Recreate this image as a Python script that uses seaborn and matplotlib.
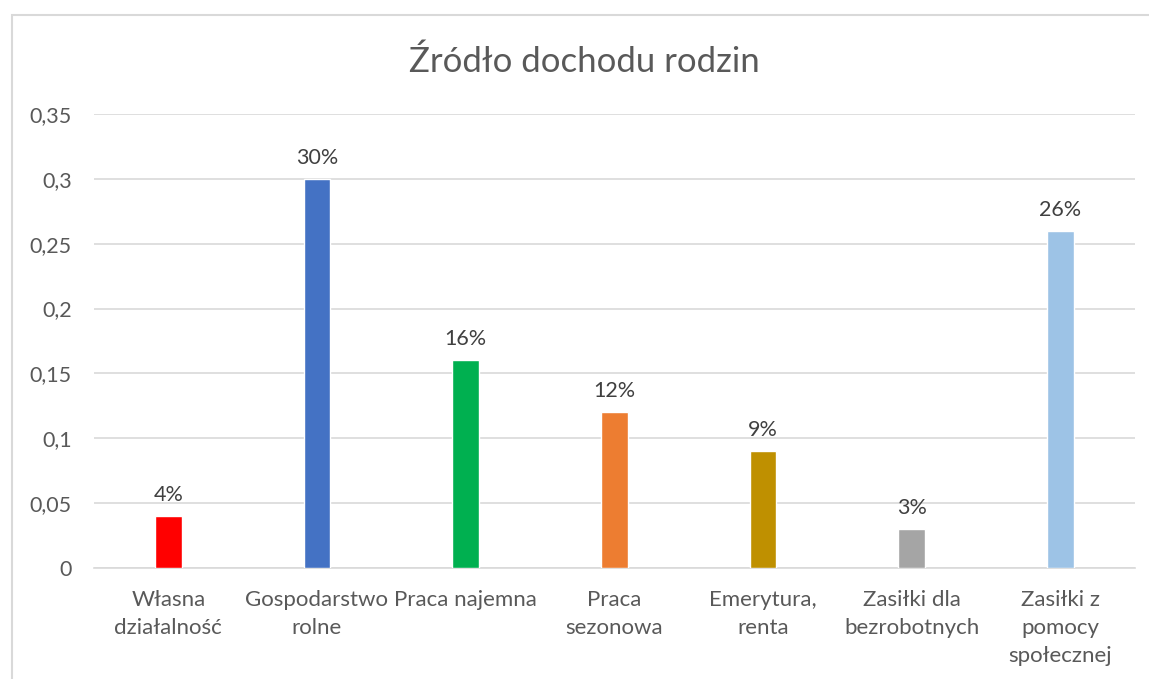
import matplotlib
matplotlib.use("Agg")
import matplotlib.pyplot as plt
import seaborn as sns
import pandas as pd
from matplotlib.patches import Rectangle
from matplotlib.ticker import FuncFormatter

# Data
categories = [
    "Własna\ndziałalność",
    "Gospodarstwo\nrolne",
    "Praca najemna",
    "Praca\nsezonowa",
    "Emerytura,\nrenta",
    "Zasiłki dla\nbezrobotnych",
    "Zasiłki z\npomocy\nspołecznej",
]
shares = [0.04, 0.30, 0.16, 0.12, 0.09, 0.03, 0.26]
bar_colors = ["#FF0000", "#4472C4", "#00B050", "#ED7D31", "#BF9000", "#A5A5A5", "#9DC3E6"]
yticks = [0, 0.05, 0.1, 0.15, 0.2, 0.25, 0.3, 0.35]

df = pd.DataFrame({"kategoria": categories, "udzial": shares})

sns.set_style("white")
plt.rcParams["font.family"] = ["Lato", "DejaVu Sans"]

text_gray = "#595959"
grid_gray = "#D9D9D9"

fig = plt.figure(figsize=(11.49, 6.79), dpi=100)
ax = fig.add_axes([0.0818, 0.1635, 0.9056, 0.6686])

sns.barplot(data=df, x="kategoria", y="udzial", hue="kategoria",
            palette=bar_colors, width=0.18, legend=False, ax=ax,
            saturation=1, zorder=3)

ax.set_ylim(0, 0.35)
ax.set_yticks(yticks)
ax.yaxis.set_major_formatter(FuncFormatter(lambda v, _: f"{v:g}".replace(".", ",")))
ax.grid(axis="y", color=grid_gray, linewidth=1.2, zorder=0)
ax.set_xlim(-0.5, len(categories) - 0.5)

for side in ["top", "right", "left"]:
    ax.spines[side].set_visible(False)
ax.spines["bottom"].set_color(grid_gray)
ax.spines["bottom"].set_linewidth(1.2)

ax.tick_params(axis="both", length=0, colors=text_gray)
ax.tick_params(axis="x", pad=16, labelsize=16)
ax.tick_params(axis="y", pad=16, labelsize=15.5)
for lbl in ax.get_xticklabels():
    lbl.set_linespacing(1.5)
ax.set_xlabel("")
ax.set_ylabel("")

# value labels above the bars
for container in ax.containers:
    ax.bar_label(container, labels=[f"{v * 100:.0f}%" for v in container.datavalues],
                 padding=8, fontsize=15.5, color="#404040")

fig.text(0.509, 0.909, "Źródło dochodu rodzin", ha="center", va="center",
         fontsize=25, color=text_gray)

# chart area border
fig.add_artist(Rectangle((0.0104, -0.05), 1.0, 1.028,
                         transform=fig.transFigure, fill=False,
                         edgecolor=grid_gray, linewidth=1.5))

fig.savefig("out.png", dpi=100)
